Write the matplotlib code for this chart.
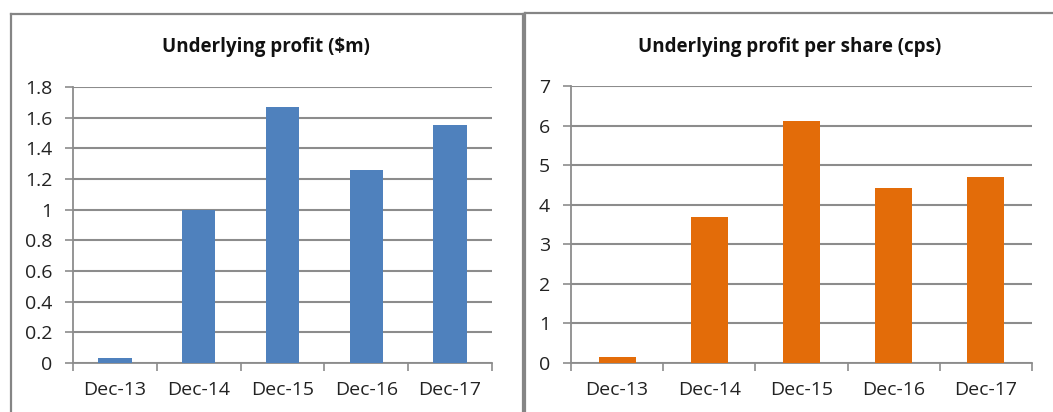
import matplotlib
matplotlib.use("Agg")
import matplotlib.pyplot as plt
from matplotlib.lines import Line2D
import numpy as np

categories = ["Dec-13", "Dec-14", "Dec-15", "Dec-16", "Dec-17"]
profit_m = [0.03, 1.00, 1.67, 1.26, 1.55]
profit_cps = [0.15, 3.69, 6.11, 4.42, 4.70]
left_ticks = [0, 0.2, 0.4, 0.6, 0.8, 1, 1.2, 1.4, 1.6, 1.8]
left_ticklabels = ["0", "0.2", "0.4", "0.6", "0.8", "1", "1.2", "1.4", "1.6", "1.8"]
right_ticks = [0, 1, 2, 3, 4, 5, 6, 7]
right_ticklabels = ["0", "1", "2", "3", "4", "5", "6", "7"]

W, H = 1053, 412
FONT = "Open Sans"
GRID = "#8c8c8c"
BORDER = "#858585"

fig = plt.figure(figsize=(W / 100, H / 100), dpi=100)


def px_line(x0, y0, x1, y1):
    fig.add_artist(Line2D([x0 / W, x1 / W], [1 - y0 / H, 1 - y1 / H],
                          transform=fig.transFigure, color=BORDER, lw=1.6))


# panel borders
px_line(11, 14, 523, 14)
px_line(11, 14, 11, 412)
px_line(523, 14, 523, 412)
px_line(525, 13, 1053, 13)
px_line(525, 13, 525, 412)


def make_panel(rect, values, color, ticks, ticklabels, ymax, title, title_x):
    ax = fig.add_axes(rect)
    x = np.arange(len(categories))
    ax.bar(x, values, width=0.4, color=color, zorder=3)
    ax.set_xlim(-0.5, len(categories) - 0.5)
    ax.set_ylim(0, ymax)
    ax.set_yticks(ticks)
    ax.set_yticklabels(ticklabels, fontsize=14, family=FONT, color="#222222")
    ax.set_xticks(x)
    ax.set_xticklabels(categories, fontsize=14, family=FONT, color="#222222")
    ax.set_xticks(np.arange(-0.5, len(categories)), minor=True)
    ax.tick_params(axis="x", which="major", length=0, pad=13)
    ax.tick_params(axis="x", which="minor", length=6, color=GRID, width=1.2)
    ax.tick_params(axis="y", length=6, color=GRID, width=1.2, pad=9)
    for t in ax.get_yticklabels():
        t.set_ha("right")
    ax.yaxis.grid(True, color=GRID, lw=1.5, zorder=0)
    for s in ["top", "right"]:
        ax.spines[s].set_visible(False)
    for s in ["left", "bottom"]:
        ax.spines[s].set_color(GRID)
        ax.spines[s].set_linewidth(1.3)
    fig.text(title_x / W, 1 - 47 / H, title, ha="center", va="center",
             fontsize=13.5, fontweight="bold", family=FONT, color="#111111")
    return ax


make_panel([73 / W, (H - 363) / H, 419 / W, 276 / H], profit_m, "#4f81bd",
           left_ticks, left_ticklabels, 1.8, "Underlying profit ($m)", 266)
make_panel([571 / W, (H - 363) / H, 461 / W, 277 / H], profit_cps, "#e36c09",
           right_ticks, right_ticklabels, 7, "Underlying profit per share (cps)", 790)

fig.savefig("out.png", dpi=100)
